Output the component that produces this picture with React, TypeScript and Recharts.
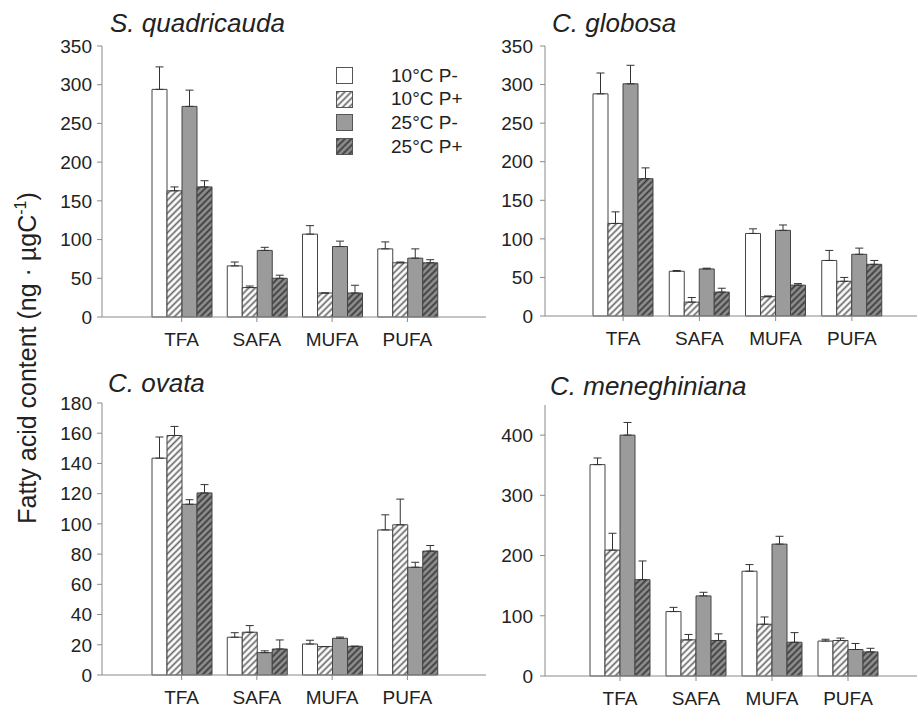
import { BarChart, Bar, XAxis, YAxis, ErrorBar, Legend } from 'recharts'

const categories = ['TFA', 'SAFA', 'MUFA', 'PUFA']
const seriesNames = ['10°C P-', '10°C P+', '25°C P-', '25°C P+']

// rows = category, columns = series (10°C P-, 10°C P+, 25°C P-, 25°C P+)
const quadMeans = [
  [294, 163, 272, 168],
  [66, 38, 86, 50],
  [107, 31, 91, 31],
  [88, 70, 76, 70],
]
const quadErr = [
  [29, 5, 21, 8],
  [5, 2, 4, 4],
  [11, 0, 7, 10],
  [9, 1, 12, 4],
]

const globMeans = [
  [288, 120, 301, 178],
  [58, 18, 61, 31],
  [107, 25, 111, 40],
  [72, 45, 80, 67],
]
const globErr = [
  [27, 15, 24, 14],
  [1, 6, 1, 5],
  [6, 1, 7, 2],
  [13, 5, 8, 5],
]

const ovataMeans = [
  [143.5, 158.5, 113, 120.5],
  [25, 28.3, 14.8, 17.2],
  [20.5, 18.8, 24.3, 19],
  [96, 99.4, 71.3, 82],
]
const ovataErr = [
  [14, 6, 3, 5.5],
  [3, 4.4, 1.2, 6],
  [2.5, 0, 0.8, 0],
  [10, 17, 3.3, 3.7],
]

const meneMeans = [
  [351, 209, 400, 160],
  [107, 60, 133, 59],
  [174, 86, 219, 56],
  [58, 59, 44, 40],
]
const meneErr = [
  [11, 28, 21, 31],
  [7, 9, 6, 11],
  [11, 12, 13, 16],
  [3, 4, 10, 6],
]

const ticks350 = [0, 50, 100, 150, 200, 250, 300, 350]
const ticks180 = [0, 20, 40, 60, 80, 100, 120, 140, 160, 180]
const ticks400 = [0, 100, 200, 300, 400]

const FONT = '"Liberation Sans", Arial, sans-serif'
const AXIS = '#8a8a8a'
const fills = ['#ffffff', 'url(#hatchLight)', '#9b9b9b', 'url(#hatchDark)']

const buildRows = (means: number[][], errs: number[][]) =>
  categories.map((cat, i) => {
    const row: any = { cat }
    means[i].forEach((v, j) => {
      row['s' + j] = v
      row['e' + j] = [0, errs[i][j]]
    })
    return row
  })

const LegendBox = () => (
  <div style={{ fontFamily: FONT, fontSize: 19, color: '#222' }}>
    {seriesNames.map((n, j) => (
      <div key={n} style={{ display: 'flex', alignItems: 'center', height: 23.6 }}>
        <svg width={17} height={17} style={{ marginRight: 38 }}>
          <rect x={0.5} y={0.5} width={16} height={16} fill={fills[j]} stroke="#555" />
        </svg>
        <span>{n}</span>
      </div>
    ))}
  </div>
)

interface PanelProps {
  rows: any[]
  left: number
  top: number
  width: number
  height: number
  margin: { top: number; right: number; bottom: number; left: number }
  padding: { left: number; right: number }
  yMax: number
  yTicks: number[]
  yTickMargin: number
  frameRight?: boolean
  legend?: boolean
}

function Panel({ rows, left, top, width, height, margin, padding, yMax, yTicks, yTickMargin, frameRight, legend }: PanelProps) {
  return (
    <div style={{ position: 'absolute', left, top }}>
      <BarChart width={width} height={height} data={rows} margin={margin} barGap={0} barSize={15}>
        <XAxis
          dataKey="cat"
          interval={0}
          height={30}
          padding={padding}
          axisLine={{ stroke: AXIS }}
          tickLine={{ stroke: AXIS }}
          tickSize={5}
          tickMargin={11}
          tick={{ fill: '#222', fontSize: 19, fontFamily: FONT }}
        />
        <XAxis
          xAxisId="top"
          orientation="top"
          dataKey="cat"
          height={0}
          tick={false}
          tickLine={false}
          axisLine={{ stroke: AXIS }}
        />
        <YAxis
          domain={[0, yMax]}
          ticks={yTicks}
          interval={0}
          width={50}
          axisLine={{ stroke: AXIS }}
          tickLine={{ stroke: AXIS }}
          tickSize={5}
          tickMargin={yTickMargin}
          tick={{ fill: '#222', fontSize: 19, fontFamily: FONT }}
        />
        {frameRight && (
          <YAxis
            yAxisId="right"
            orientation="right"
            domain={[0, 1]}
            width={0}
            tick={false}
            tickLine={false}
            axisLine={{ stroke: AXIS }}
          />
        )}
        {seriesNames.map((n, j) => (
          <Bar
            key={n}
            dataKey={'s' + j}
            name={n}
            fill={fills[j]}
            stroke="#444"
            strokeWidth={1}
            isAnimationActive={false}
          >
            <ErrorBar dataKey={'e' + j} width={4} stroke="#333" strokeWidth={1} direction="y" isAnimationActive={false} />
          </Bar>
        ))}
        {legend && (
          <Legend
            layout="vertical"
            align="center"
            verticalAlign="middle"
            content={LegendBox}
            wrapperStyle={{ left: 336, top: 64, width: 140, height: 95 }}
          />
        )}
      </BarChart>
    </div>
  )
}

export default function App() {
  return (
    <div style={{ position: 'absolute', left: 0, top: 0, width: 917, height: 710, background: '#fff', overflow: 'hidden' }}>
      <Panel
        rows={buildRows(quadMeans, quadErr)}
        left={0}
        top={0}
        width={500}
        height={360}
        margin={{ top: 46, right: 14, bottom: 13, left: 52 }}
        padding={{ left: 42, right: 41 }}
        yMax={350}
        yTicks={ticks350}
        yTickMargin={5}
        frameRight
        legend
      />
      <Panel
        rows={buildRows(globMeans, globErr)}
        left={440}
        top={0}
        width={477}
        height={360}
        margin={{ top: 46, right: 0, bottom: 14, left: 55 }}
        padding={{ left: 40, right: 27 }}
        yMax={350}
        yTicks={ticks350}
        yTickMargin={7}
      />
      <Panel
        rows={buildRows(ovataMeans, ovataErr)}
        left={0}
        top={360}
        width={500}
        height={350}
        margin={{ top: 43, right: 14, bottom: 5, left: 52 }}
        padding={{ left: 42, right: 41 }}
        yMax={180}
        yTicks={ticks180}
        yTickMargin={5}
        frameRight
      />
      <Panel
        rows={buildRows(meneMeans, meneErr)}
        left={440}
        top={360}
        width={477}
        height={350}
        margin={{ top: 45, right: 0, bottom: 4, left: 55 }}
        padding={{ left: 37, right: 31 }}
        yMax={450}
        yTicks={ticks400}
        yTickMargin={7}
      />
      <svg width={917} height={710} style={{ position: 'absolute', left: 0, top: 0, pointerEvents: 'none' }}>
        <defs>
          <pattern id="hatchLight" patternUnits="userSpaceOnUse" width={4.6} height={4.6} patternTransform="rotate(45)">
            <rect width={4.6} height={4.6} fill="#fff" />
            <line x1={2.3} y1={0} x2={2.3} y2={4.6} stroke="#666" strokeWidth={1.7} />
          </pattern>
          <pattern id="hatchDark" patternUnits="userSpaceOnUse" width={4.6} height={4.6} patternTransform="rotate(45)">
            <rect width={4.6} height={4.6} fill="#8f8f8f" />
            <line x1={2.3} y1={0} x2={2.3} y2={4.6} stroke="#3a3a3a" strokeWidth={1.8} />
          </pattern>
        </defs>
        <g fontFamily={FONT} fontStyle="italic" fontSize={26} fill="#222">
          <text x={110} y={32}>S. quadricauda</text>
          <text x={552} y={32}>C. globosa</text>
          <text x={108} y={392}>C. ovata</text>
          <text x={550} y={395}>C. meneghiniana</text>
        </g>
        <text
          transform="translate(36,358) rotate(-90)"
          textAnchor="middle"
          fontFamily={FONT}
          fontSize={25}
          fill="#222"
        >
          Fatty acid content (ng · µgC
          <tspan dy={-10} fontSize={16}>-1</tspan>
          <tspan dy={10}>)</tspan>
        </text>
      </svg>
    </div>
  )
}
